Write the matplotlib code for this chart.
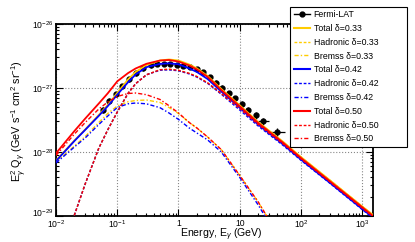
import numpy as np
import matplotlib
matplotlib.use("Agg")
import matplotlib.pyplot as plt
import matplotlib.transforms as mtransforms
from matplotlib.lines import Line2D
from matplotlib.ticker import FixedLocator, FixedFormatter, LogLocator, NullFormatter

plt.rcParams['font.family'] = ['Liberation Sans', 'DejaVu Sans']
plt.rcParams['mathtext.fontset'] = 'custom'
plt.rcParams['mathtext.rm'] = 'Liberation Sans'
plt.rcParams['mathtext.it'] = 'Liberation Sans:italic'
plt.rcParams['mathtext.bf'] = 'Liberation Sans:bold'

# Fermi-LAT points (GeV, GeV s^-1 cm^2 sr^-1)
E_lat = [0.0579, 0.0743, 0.0954, 0.121, 0.154, 0.200, 0.267, 0.350, 0.447, 0.571,
         0.730, 0.938, 1.20, 1.55, 1.98, 2.52, 3.22, 4.11, 5.21, 6.59,
         8.41, 10.8, 13.9, 18.1, 24.4, 40.4]
flux_lat = [4.53e-28, 6.33e-28, 8.06e-28, 1.07e-27, 1.36e-27, 1.69e-27, 2.02e-27, 2.25e-27, 2.35e-27, 2.39e-27,
            2.37e-27, 2.30e-27, 2.22e-27, 2.11e-27, 1.95e-27, 1.75e-27, 1.49e-27, 1.21e-27, 1.01e-27, 8.26e-28,
            6.90e-28, 5.62e-28, 4.53e-28, 3.74e-28, 3.02e-28, 2.02e-28]
flux_err = [0.45e-28, 0.6e-28, 0.75e-28, 0.9e-28, 1.1e-28, 1.3e-28, 1.5e-28, 1.6e-28, 1.6e-28, 1.6e-28,
            1.6e-28, 1.6e-28, 1.5e-28, 1.5e-28, 1.4e-28, 1.3e-28, 1.2e-28, 1.0e-28, 0.9e-28, 0.75e-28,
            0.65e-28, 0.55e-28, 0.5e-28, 0.45e-28, 0.4e-28, 0.35e-28]
E_err_lo = [0] * 24 + [4.3, 10.3]
E_err_hi = [0] * 24 + [5.2, 13.5]

# model curves
E_model = [0.01, 0.02, 0.03, 0.05, 0.07, 0.1, 0.15, 0.2, 0.3, 0.5, 0.7, 1, 1.5, 2, 3, 5,
           10, 20, 50, 100, 300, 1000, 1500]
total_033 = [7.37e-29, 1.51e-28, 2.25e-28, 3.79e-28, 5.42e-28, 8.35e-28, 1.36e-27, 1.78e-27, 2.29e-27,
             2.69e-27, 2.79e-27, 2.69e-27, 2.33e-27, 2.02e-27, 1.54e-27, 9.65e-28, 5.37e-28, 2.94e-28,
             1.47e-28, 8.35e-29, 3.59e-29, 1.41e-29, 1.04e-29]
total_042 = [7.23e-29, 1.49e-28, 2.22e-28, 3.68e-28, 5.21e-28, 7.86e-28, 1.23e-27, 1.63e-27, 2.12e-27,
             2.38e-27, 2.43e-27, 2.35e-27, 2.02e-27, 1.78e-27, 1.38e-27, 8.82e-28, 4.91e-28, 2.69e-28,
             1.34e-28, 7.63e-29, 3.28e-29, 1.29e-29, 9.5e-30]
total_050 = [9.55e-29, 2.13e-28, 3.33e-28, 5.73e-28, 8.26e-28, 1.27e-27, 1.71e-27, 2.02e-27, 2.39e-27,
             2.69e-27, 2.74e-27, 2.59e-27, 2.25e-27, 1.95e-27, 1.49e-27, 9.3e-28, 5.18e-28, 2.84e-28,
             1.42e-28, 8.06e-29, 3.46e-29, 1.37e-29, 1.0e-29]

E_had = [0.015, 0.02, 0.03, 0.05, 0.07, 0.1, 0.15, 0.2, 0.3, 0.5, 0.7, 1, 1.5, 2, 3, 5,
         10, 20, 50, 100, 300, 1000, 1500]
had_033 = [4.7e-30, 1.04e-29, 3.18e-29, 1.15e-28, 2.22e-28, 4.2e-28, 8.24e-28, 1.17e-27, 1.61e-27,
           1.93e-27, 1.96e-27, 1.89e-27, 1.69e-27, 1.51e-27, 1.20e-27, 8.2e-28, 4.96e-28, 2.84e-28,
           1.43e-28, 8.26e-29, 3.59e-29, 1.41e-29, 1.04e-29]
had_042 = [4.7e-30, 1.04e-29, 3.18e-29, 1.15e-28, 2.22e-28, 4.2e-28, 8.24e-28, 1.17e-27, 1.61e-27,
           1.90e-27, 1.92e-27, 1.86e-27, 1.66e-27, 1.48e-27, 1.18e-27, 8.0e-28, 4.53e-28, 2.55e-28,
           1.29e-28, 7.42e-29, 3.22e-29, 1.26e-29, 9.3e-30]
had_050 = [4.7e-30, 1.04e-29, 3.18e-29, 1.15e-28, 2.22e-28, 4.2e-28, 8.24e-28, 1.17e-27, 1.61e-27,
           1.93e-27, 1.96e-27, 1.89e-27, 1.69e-27, 1.51e-27, 1.20e-27, 8.2e-28, 4.78e-28, 2.69e-28,
           1.36e-28, 7.83e-29, 3.40e-29, 1.33e-29, 9.8e-30]

E_brem = [0.01, 0.02, 0.03, 0.05, 0.07, 0.1, 0.15, 0.2, 0.3, 0.5, 0.7, 1, 1.5, 2, 3, 5, 10, 20, 50]
brem_033 = [6.98e-29, 1.24e-28, 1.75e-28, 2.89e-28, 4.0e-28, 5.23e-28, 6.09e-28, 6.38e-28, 6.49e-28,
            5.94e-28, 4.96e-28, 4.0e-28, 2.89e-28, 2.37e-28, 1.71e-28, 1.09e-28, 4.3e-29, 1.66e-29, 3.9e-30]
brem_042 = [6.73e-29, 1.20e-28, 1.66e-28, 2.69e-28, 3.65e-28, 4.96e-28, 5.66e-28, 5.83e-28, 5.66e-28,
            4.92e-28, 4.07e-28, 3.23e-28, 2.37e-28, 1.98e-28, 1.54e-28, 1.0e-28, 4.0e-29, 1.49e-29, 3.5e-30]
brem_050 = [8.82e-29, 1.91e-28, 2.89e-28, 4.70e-28, 6.04e-28, 7.37e-28, 8.2e-28, 8.35e-28, 7.86e-28,
            6.61e-28, 5.29e-28, 4.07e-28, 2.89e-28, 2.37e-28, 1.71e-28, 1.09e-28, 4.30e-29, 1.66e-29, 3.9e-30]

deltas = ["0.33", "0.42", "0.50"]
colors = ["#ffcc00", "#0000ff", "#ff0000"]
totals = [total_033, total_042, total_050]
hads = [had_033, had_042, had_050]
brems = [brem_033, brem_042, brem_050]

x_ticks = [1e-2, 1e-1, 1, 10, 1e2, 1e3]
x_labels = ["$10^{-2}$", "$10^{-1}$", "1", "10", "$10^{2}$", "$10^{3}$"]
y_ticks = [1e-29, 1e-28, 1e-27, 1e-26]
y_labels = ["$10^{-29}$", "$10^{-28}$", "$10^{-27}$", "$10^{-26}$"]

fig = plt.figure(figsize=(4.15, 2.42), dpi=100)
ax = fig.add_axes([56 / 415, 26 / 242, 317 / 415, 192 / 242])
ax.set_xscale('log')
ax.set_yscale('log')

ax.errorbar(E_lat, flux_lat, yerr=flux_err, xerr=[E_err_lo, E_err_hi], fmt='o', color='black',
            ms=3.5, elinewidth=0.9, capsize=0, zorder=2)

handles = [Line2D([], [], color='black', marker='o', ms=3.5, lw=1.0)]
labels = ["Fermi-LAT"]
hstyle = (0, (2, 1.3))
bstyle = (0, (3, 1.5, 1, 1.5))
for d, c, t, h, b in zip(deltas, colors, totals, hads, brems):
    ax.plot(E_model, t, color=c, lw=1.3, zorder=3)
    ax.plot(E_had, h, color=c, lw=1.0, ls=hstyle, zorder=3)
    ax.plot(E_brem, b, color=c, lw=1.0, ls=bstyle, zorder=3)
    handles += [Line2D([], [], color=c, lw=1.5),
                Line2D([], [], color=c, lw=1.0, ls=hstyle),
                Line2D([], [], color=c, lw=1.0, ls=bstyle)]
    labels += ["Total \u03b4=" + d, "Hadronic \u03b4=" + d, "Bremss \u03b4=" + d]

ax.set_xlim(1e-2, 1.5e3)
ax.set_ylim(1e-29, 1e-26)
ax.xaxis.set_major_locator(FixedLocator(x_ticks))
ax.xaxis.set_major_formatter(FixedFormatter(x_labels))
ax.yaxis.set_major_locator(FixedLocator(y_ticks))
ax.yaxis.set_major_formatter(FixedFormatter(y_labels))
ax.xaxis.set_minor_locator(LogLocator(base=10, subs=np.arange(2, 10), numticks=20))
ax.yaxis.set_minor_locator(LogLocator(base=10, subs=np.arange(2, 10), numticks=20))
ax.xaxis.set_minor_formatter(NullFormatter())
ax.yaxis.set_minor_formatter(NullFormatter())
ax.tick_params(which='both', direction='in', top=True, right=True, labelsize=6.2, width=0.8)
ax.tick_params(which='major', length=5)
ax.tick_params(axis='x', which='major', pad=2)
ax.tick_params(axis='y', which='major', pad=2)
ax.tick_params(which='minor', length=2.5)
ax.grid(which='major', ls=':', color='#888888', lw=0.8)
for s in ax.spines.values():
    s.set_linewidth(1.3)

# lift the lowest y label a little so it clears the first x label
lowest = ax.yaxis.get_major_ticks()[0].label1
lowest.set_transform(lowest.get_transform() + mtransforms.ScaledTranslation(0, 3.5 / 100, fig.dpi_scale_trans))

fig.text(262 / 415, 1 - 237.3 / 242, "Energy, E$_{\\gamma}$ (GeV)", ha='right', va='baseline', fontsize=7.6)
fig.text(19 / 415, 1 - 60 / 242,
         "E$^{2}_{\\gamma}$ Q$_{\\gamma}$ (GeV s$^{-1}$ cm$^{2}$ sr$^{-1}$)",
         rotation=90, ha='center', va='top', fontsize=7.8)

leg = fig.legend(handles, labels, loc='upper left', bbox_to_anchor=(290 / 415, 1 - 9 / 242, 117 / 415, 0.01),
                 mode='expand', borderaxespad=0, fontsize=6.3, labelspacing=0.55, handlelength=1.9,
                 handletextpad=0.4, borderpad=0.4, fancybox=False, framealpha=1, edgecolor='black')
leg.get_frame().set_linewidth(0.8)

fig.savefig("out.png", dpi=100)
